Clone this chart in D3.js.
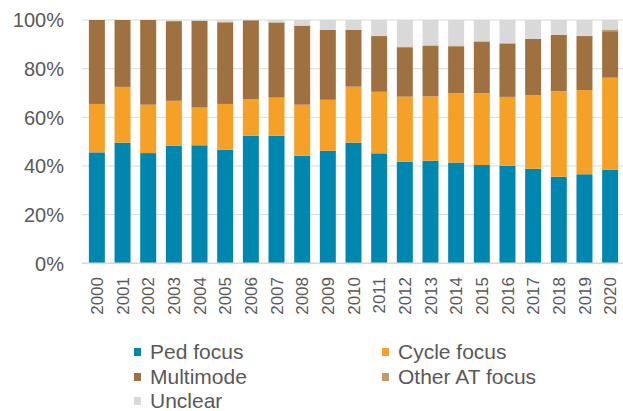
<!DOCTYPE html>
<html>
<head>
<meta charset="utf-8">
<script src="https://cdn.jsdelivr.net/npm/d3@7"></script>
<style>
  body { margin: 0; background: #fff; }
  svg { display: block; font-family: "Liberation Sans", Arial, sans-serif; }
</style>
</head>
<body>
<svg id="chart" width="623" height="411"></svg>
<script>
const years = ['2000','2001','2002','2003','2004','2005','2006','2007','2008','2009','2010',
  '2011','2012','2013','2014','2015','2016','2017','2018','2019','2020'];
const ped = [45.6,49.6,45.3,48.3,48.5,46.7,52.4,52.4,44.2,46.3,49.6,45.2,41.8,42.2,41.4,40.4,40.1,38.9,35.6,36.6,38.5];
const cycle = [19.9,22.9,19.9,18.5,15.5,18.8,15.1,15.7,21.0,20.9,23.0,25.3,26.7,26.4,28.6,29.5,28.3,30.2,35.1,34.6,37.8];
const multimode = [34.5,27.5,34.8,32.7,35.7,33.5,32.4,30.8,32.5,28.7,23.3,22.9,20.3,20.7,19.2,21.3,21.9,23.2,23.2,22.2,19.1];
const otherAT = [0,0,0,0.2,0,0.3,0,0.2,0,0,0,0,0.3,0.3,0.3,0,0.2,0,0,0,0.7];
const unclear = [0,0,0,0.3,0.3,0.7,0.1,0.9,2.3,4.1,4.1,6.6,10.9,10.4,10.5,8.8,9.5,7.7,6.1,6.6,3.9];
const yTicks = [0,20,40,60,80,100];

const seriesNames = ['Ped focus','Cycle focus','Multimode','Other AT focus','Unclear'];
const seriesVals = [ped, cycle, multimode, otherAT, unclear];
const colors = ['#0087b0','#f5a127','#a07140','#c49a6c','#d9d9d9'];

let rows = years.map((y, i) => {
  let r = {year: y};
  seriesNames.forEach((n, j) => r[n] = seriesVals[j][i]);
  return r;
});

let svg = d3.select('#chart');
let plotLeft = 84, plotRight = 623, plotTop = 20, plotBottom = 263.3;

let x = d3.scaleBand()
  .domain(years)
  .range([plotLeft, plotRight])
  .paddingInner(0.377)
  .paddingOuter(0.19);

let y = d3.scaleLinear()
  .domain([0, 100])
  .range([plotBottom, plotTop]);

// gridlines
svg.append('g')
  .selectAll('line')
  .data(yTicks)
  .enter()
  .append('line')
  .attr('x1', plotLeft - 2)
  .attr('x2', plotRight)
  .attr('y1', d => y(d))
  .attr('y2', d => y(d))
  .attr('stroke', '#d9d9d9')
  .attr('stroke-width', 1);

// y labels
svg.append('g')
  .selectAll('text')
  .data(yTicks)
  .enter()
  .append('text')
  .attr('x', 64)
  .attr('y', d => y(d))
  .attr('dy', '0.36em')
  .attr('text-anchor', 'end')
  .attr('fill', '#595959')
  .style('font-size', '20px')
  .text(d => d + '%');

let stacked = d3.stack().keys(seriesNames)(rows);

svg.append('g')
  .selectAll('g')
  .data(stacked)
  .enter()
  .append('g')
  .attr('fill', (d, i) => colors[i])
  .selectAll('rect')
  .data(d => d)
  .enter()
  .append('rect')
  .attr('x', d => x(d.data.year))
  .attr('width', x.bandwidth())
  .attr('y', d => y(d[1]))
  .attr('height', d => y(d[0]) - y(d[1]));

// bottom axis line
svg.append('line')
  .attr('x1', plotLeft - 2)
  .attr('x2', plotRight)
  .attr('y1', plotBottom)
  .attr('y2', plotBottom)
  .attr('stroke', '#d9d9d9')
  .attr('stroke-width', 1.5);

// x labels
svg.append('g')
  .selectAll('text')
  .data(years)
  .enter()
  .append('text')
  .attr('transform', d => `translate(${x(d) + x.bandwidth() / 2},277) rotate(-90)`)
  .attr('dy', '0.36em')
  .attr('text-anchor', 'end')
  .attr('fill', '#595959')
  .style('font-size', '17px')
  .text(d => d);

// legend
let legendPos = [[134,352],[382,352],[134,377],[382,377],[134,401]];
let legend = svg.append('g')
  .selectAll('g')
  .data(seriesNames)
  .enter()
  .append('g')
  .attr('transform', (d, i) => `translate(${legendPos[i][0]},${legendPos[i][1]})`);

legend.append('rect')
  .attr('x', 0)
  .attr('y', -4)
  .attr('width', 7)
  .attr('height', 8)
  .attr('fill', (d, i) => colors[i]);

legend.append('text')
  .attr('x', 16)
  .attr('dy', '0.35em')
  .attr('fill', '#595959')
  .style('font-size', '21px')
  .text(d => d);
</script>
</body>
</html>
